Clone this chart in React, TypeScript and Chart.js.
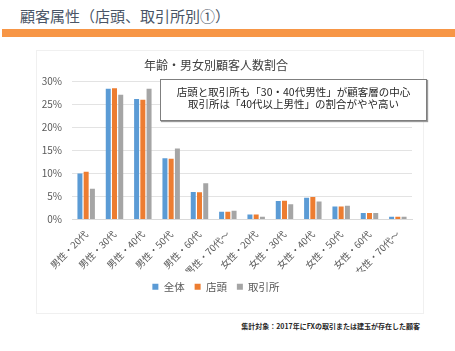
import React, { useEffect, useRef } from "react";
import { Chart, registerables } from "chart.js";

Chart.register(...registerables);

const categories = [
  "男性・20代", "男性・30代", "男性・40代", "男性・50代", "男性・60代", "男性・70代～",
  "女性・20代", "女性・30代", "女性・40代", "女性・50代", "女性・60代", "女性・70代～",
];
const seriesNames = ["全体", "店頭", "取引所"];
const totalValues = [10.0, 28.4, 26.2, 13.3, 6.0, 1.7, 1.1, 4.0, 4.7, 2.8, 1.4, 0.6];
const storeValues = [10.4, 28.5, 26.0, 13.2, 5.9, 1.7, 1.1, 4.1, 4.9, 2.8, 1.4, 0.6];
const exchangeValues = [6.7, 27.1, 28.4, 15.4, 7.9, 1.9, 0.6, 3.3, 3.9, 3.0, 1.4, 0.6];
const yTicks = [0, 5, 10, 15, 20, 25, 30];

const colors = ["#5B9BD5", "#ED7D31", "#A5A5A5"];
const FONT = '"Noto Sans CJK JP", "Noto Sans", sans-serif';

export default function App() {
  const ref = useRef<HTMLCanvasElement | null>(null);

  useEffect(() => {
    if (!ref.current) return;
    const chart = new Chart(ref.current, {
      type: "bar",
      data: {
        labels: categories,
        datasets: [totalValues, storeValues, exchangeValues].map((d, i) => ({
          label: seriesNames[i],
          data: d,
          backgroundColor: colors[i],
          borderWidth: 0,
          categoryPercentage: 0.66,
          barPercentage: 0.8,
        })),
      },
      options: {
        responsive: false,
        animation: false,
        layout: { padding: { left: 0, right: 28, top: 0, bottom: 8 } },
        plugins: {
          title: {
            display: true,
            text: "年齢・男女別顧客人数割合",
            color: "#404040",
            font: { family: FONT, size: 12, weight: "normal" },
            padding: { top: 10, bottom: 9 },
          },
          legend: {
            position: "bottom",
            labels: {
              boxWidth: 6,
              boxHeight: 6,
              color: "#595959",
              font: { family: FONT, size: 10.5 },
              padding: 10,
            },
          },
          tooltip: { enabled: false },
        },
        scales: {
          x: {
            grid: { display: false },
            border: { color: "#d9d9d9" },
            ticks: {
              color: "#595959",
              font: { family: FONT, size: 9.5 },
              minRotation: 45,
              maxRotation: 45,
              autoSkip: false,
              padding: 1,
            },
            afterFit: (s: any) => {
              s.height = 52;
            },
          },
          y: {
            min: 0,
            max: 30,
            afterBuildTicks: (s: any) => {
              s.ticks = yTicks.map((v) => ({ value: v }));
            },
            grid: { color: "#e3e3e3", drawTicks: false },
            border: { display: false },
            ticks: {
              color: "#595959",
              font: { family: FONT, size: 10 },
              padding: 10,
              callback: (v: any) => v + "%",
            },
            afterFit: (s: any) => {
              s.width = 52;
            },
          },
        },
      },
    });
    return () => chart.destroy();
  }, []);

  return (
    <div
      style={{
        position: "absolute",
        left: 0,
        top: 0,
        width: 455,
        height: 351,
        background: "#fff",
        fontFamily: FONT,
        overflow: "hidden",
      }}
    >
      <div
        style={{
          position: "absolute",
          left: 20,
          top: 6,
          fontSize: 15,
          color: "#4a5566",
          whiteSpace: "nowrap",
          lineHeight: "20px",
        }}
      >
        顧客属性（店頭、取引所別①）
      </div>
      <div
        style={{
          position: "absolute",
          left: 2,
          top: 29,
          width: 453,
          height: 8,
          background: "#F79646",
        }}
      />
      <div
        style={{
          position: "absolute",
          left: 36,
          top: 50,
          width: 386,
          height: 262,
          border: "1px solid #f0f0f0",
        }}
      />
      <canvas
        ref={ref}
        width={420}
        height={262}
        style={{ position: "absolute", left: 20, top: 48, width: 420, height: 262 }}
      />
      <div
        style={{
          position: "absolute",
          left: 160,
          top: 79,
          width: 265,
          height: 34,
          border: "1px solid #7f7f7f",
          boxShadow: "1px 1px 1px #9a9a9a",
          background: "#fff",
          color: "#262626",
          fontSize: 10.5,
          lineHeight: "12px",
          textAlign: "center",
          paddingTop: 6,
          boxSizing: "content-box",
          whiteSpace: "nowrap",
        }}
      >
        店頭と取引所も「30・40代男性」が顧客層の中心
        <br />
        取引所は「40代以上男性」の割合がやや高い
      </div>
      <div
        style={{
          position: "absolute",
          right: 35,
          top: 321,
          fontSize: 7,
          fontWeight: "bold",
          color: "#262626",
          whiteSpace: "nowrap",
        }}
      >
        集計対象：2017年にFXの取引または建玉が存在した顧客
      </div>
    </div>
  );
}
